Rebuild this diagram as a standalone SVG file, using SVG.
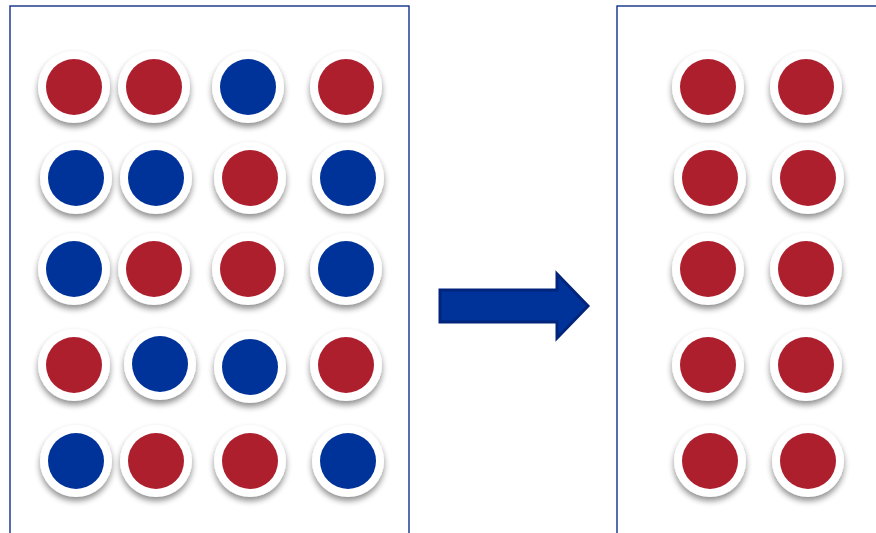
<svg xmlns="http://www.w3.org/2000/svg" width="876" height="533" viewBox="0 0 876 533">
  <style>
    .panel { fill: #ffffff; stroke: #123189; stroke-width: 1.4; }
    .ring { fill: #ffffff; filter: url(#shadow); }
    .red { fill: #ae1f2d; }
    .blue { fill: #00339a; }
  </style>
  <defs>
    <filter id="shadow" x="-30%" y="-30%" width="160%" height="170%">
      <feGaussianBlur in="SourceAlpha" stdDeviation="3"/>
      <feOffset dx="0" dy="4" result="b"/>
      <feComponentTransfer><feFuncA type="linear" slope="0.45"/></feComponentTransfer>
      <feMerge><feMergeNode/><feMergeNode in="SourceGraphic"/></feMerge>
    </filter>
    <g id="ring"><circle class="ring" r="36"/></g>
  </defs>
  <rect width="876" height="533" fill="#ffffff"/>

  <g id="panel-left"><rect class="panel" x="10" y="6" width="399" height="540"/></g>
  <g id="panel-right"><rect class="panel" x="617" y="6" width="280" height="540"/></g>

  <g id="dots-left">
    <!-- row 1 -->
    <g transform="translate(74,87)"><use href="#ring"/><circle class="red" r="28"/></g>
    <g transform="translate(154,87)"><use href="#ring"/><circle class="red" r="28"/></g>
    <g transform="translate(248,87)"><use href="#ring"/><circle class="blue" r="28"/></g>
    <g transform="translate(346,87)"><use href="#ring"/><circle class="red" r="28"/></g>
    <!-- row 2 -->
    <g transform="translate(76,178)"><use href="#ring"/><circle class="blue" r="28"/></g>
    <g transform="translate(156,178)"><use href="#ring"/><circle class="blue" r="28"/></g>
    <g transform="translate(250,178)"><use href="#ring"/><circle class="red" r="28"/></g>
    <g transform="translate(348,178)"><use href="#ring"/><circle class="blue" r="28"/></g>
    <!-- row 3 -->
    <g transform="translate(74,269)"><use href="#ring"/><circle class="blue" r="28"/></g>
    <g transform="translate(154,269)"><use href="#ring"/><circle class="red" r="28"/></g>
    <g transform="translate(248,269)"><use href="#ring"/><circle class="red" r="28"/></g>
    <g transform="translate(346,269)"><use href="#ring"/><circle class="blue" r="28"/></g>
    <!-- row 4 -->
    <g transform="translate(74,365)"><use href="#ring"/><circle class="red" r="28"/></g>
    <g transform="translate(160,364)"><use href="#ring"/><circle class="blue" r="28"/></g>
    <g transform="translate(250,367)"><use href="#ring"/><circle class="blue" r="28"/></g>
    <g transform="translate(346,365)"><use href="#ring"/><circle class="red" r="28"/></g>
    <!-- row 5 -->
    <g transform="translate(76,461)"><use href="#ring"/><circle class="blue" r="28"/></g>
    <g transform="translate(156,461)"><use href="#ring"/><circle class="red" r="28"/></g>
    <g transform="translate(250,461)"><use href="#ring"/><circle class="red" r="28"/></g>
    <g transform="translate(348,461)"><use href="#ring"/><circle class="blue" r="28"/></g>
  </g>

  <g id="dots-right">
    <g transform="translate(708,87)"><use href="#ring"/><circle class="red" r="28"/></g>
    <g transform="translate(806,87)"><use href="#ring"/><circle class="red" r="28"/></g>
    <g transform="translate(710,178)"><use href="#ring"/><circle class="red" r="28"/></g>
    <g transform="translate(808,178)"><use href="#ring"/><circle class="red" r="28"/></g>
    <g transform="translate(708,269)"><use href="#ring"/><circle class="red" r="28"/></g>
    <g transform="translate(806,269)"><use href="#ring"/><circle class="red" r="28"/></g>
    <g transform="translate(708,365)"><use href="#ring"/><circle class="red" r="28"/></g>
    <g transform="translate(806,365)"><use href="#ring"/><circle class="red" r="28"/></g>
    <g transform="translate(710,461)"><use href="#ring"/><circle class="red" r="28"/></g>
    <g transform="translate(808,461)"><use href="#ring"/><circle class="red" r="28"/></g>
  </g>

  <g id="connectors">
    <path d="M440,290 L557,290 L557,274 L588,306 L557,338 L557,322 L440,322 Z"
          fill="#00339a" stroke="#00257a" stroke-width="3" stroke-linejoin="miter"/>
  </g>
</svg>
